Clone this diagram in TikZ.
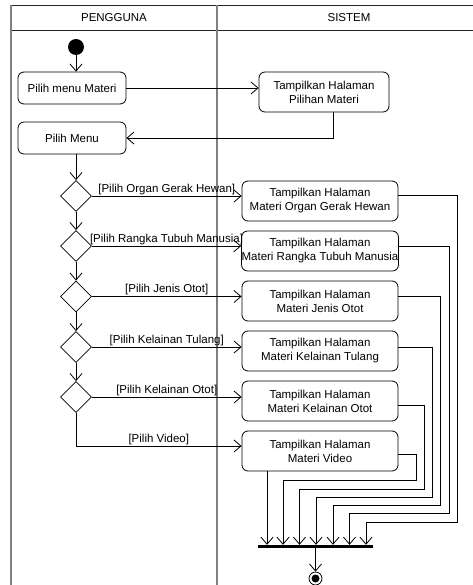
\documentclass[tikz,border=0pt]{standalone}
\usepackage{fontspec}
\setmainfont{Liberation Sans}
\usetikzlibrary{arrows.meta,shapes.geometric,calc}
\begin{document}
\begin{tikzpicture}[x=1pt,y=-1pt,
  every node/.style={font=\fontsize{11.5}{14}\selectfont},
  act/.style={draw, rounded corners=6pt, align=center, inner sep=0pt, line width=0.8pt},
  smallact/.style={act, minimum width=108pt, minimum height=32pt},
  pageact/.style={act, minimum width=156pt, minimum height=40pt},
  choice/.style={draw, diamond, shape aspect=1, inner sep=0pt, minimum size=31pt, line width=0.8pt},
  arr/.style={line width=0.8pt, -{Straight Barb[length=7pt,width=12pt,line width=0.8pt]}},
  flow/.style={line width=0.8pt},
  lbl/.style={midway, above, inner sep=1.2pt},
  lane/.style={line width=0.9pt, black!85},
  laneside/.style={line width=1.6pt, black!50},
]
\useasboundingbox (0,0) rectangle (472,585);

% swimlanes
\draw[lane] (11,5) -- (481,5);
\draw[lane] (11,30) -- (481,30);
\draw[laneside] (11,5) -- (11,585);
\draw[laneside] (217,5) -- (217,585);
\node (hUser) at (114,17.5) {PENGGUNA};
\node (hSys)  at (349,17.5) {SISTEM};

% user lane
\node[circle, fill=black, minimum size=16pt, inner sep=0pt] (start) at (76,47) {};
\node[smallact] (pm) at (72,88) {Pilih menu Materi};
\node[smallact] (menu) at (72,138) {Pilih Menu};
\node[choice] (d1) at (76,196) {};
\node[choice] (d2) at (76,246) {};
\node[choice] (d3) at (76,296.5) {};
\node[choice] (d4) at (76,347) {};
\node[choice] (d5) at (76,397) {};
\coordinate (vid) at (76,446);

% system lane
\node[act, minimum width=130pt, minimum height=40pt] (pil) at (324,92) {Tampilkan Halaman\\Pilihan Materi};
\node[pageact] (b1) at (320,201) {Tampilkan Halaman\\Materi Organ Gerak Hewan};
\node[pageact] (b2) at (320,251) {Tampilkan Halaman\\Materi Rangka Tubuh Manusia};
\node[pageact] (b3) at (320,301) {Tampilkan Halaman\\Materi Jenis Otot};
\node[pageact] (b4) at (320,351) {Tampilkan Halaman\\Materi Kelainan Tulang};
\node[pageact] (b5) at (320,401) {Tampilkan Halaman\\Materi Kelainan Otot};
\node[pageact] (b6) at (320,451) {Tampilkan Halaman\\Materi Video};

\node[rectangle, fill=black, minimum width=115pt, minimum height=3pt, inner sep=0pt] (bar) at (315.5,546.5) {};
\node[circle, draw, line width=0.8pt, minimum size=13pt, inner sep=0pt] (fin) at (315.5,578.5) {};
\node[circle, fill=black, minimum size=8pt, inner sep=0pt] (finDot) at (fin) {};

% routing points for the merge
\coordinate (c1) at (457,522); \coordinate (j1) at (366,0);
\coordinate (c2) at (449,513); \coordinate (j2) at (349.5,0);
\coordinate (c3) at (440.5,505); \coordinate (j3) at (333,0);
\coordinate (c4) at (432,497); \coordinate (j4) at (316,0);
\coordinate (c5) at (424,489); \coordinate (j5) at (299.5,0);
\coordinate (c6) at (416,480); \coordinate (j6) at (283,0);
\coordinate (j0) at (267,0);
\coordinate (ret) at (333,0);

% flows
\draw[arr] (start) -- (start |- pm.north);
\draw[arr] (pm.east) -- (pm.east -| pil.west);
\draw[arr] (pil.south -| ret) |- (menu.east);
\draw[arr] (menu.south -| d1.north) -- (d1.north);
\draw[arr] (d1.south) -- (d2.north);
\draw[arr] (d2.south) -- (d3.north);
\draw[arr] (d3.south) -- (d4.north);
\draw[arr] (d4.south) -- (d5.north);

\draw[arr] (d1.east) -- node[lbl] {[Pilih Organ Gerak Hewan]} (d1.east -| b1.west);
\draw[arr] (d2.east) -- node[lbl] {[Pilih Rangka Tubuh Manusia]} (d2.east -| b2.west);
\draw[arr] (d3.east) -- node[lbl] {[Pilih Jenis Otot]} (d3.east -| b3.west);
\draw[arr] (d4.east) -- node[lbl] {[Pilih Kelainan Tulang]} (d4.east -| b4.west);
\draw[arr] (d5.east) -- node[lbl] {[Pilih Kelainan Otot]} (d5.east -| b5.west);
\draw[flow] (d5.south) -- (vid);
\draw[arr] (vid) -- node[lbl] {[Pilih Video]} (vid -| b6.west);

% merge into the join bar
\draw[arr] ([yshift=6pt]b1.east) -| (c1) -| (bar.north -| j1);
\draw[arr] ([yshift=5pt]b2.east) -| (c2) -| (bar.north -| j2);
\draw[arr] ([yshift=5pt]b3.east) -| (c3) -| (bar.north -| j3);
\draw[arr] ([yshift=4pt]b4.east) -| (c4) -| (bar.north -| j4);
\draw[arr] ([yshift=-4pt]b5.east) -| (c5) -| (bar.north -| j5);
\draw[arr] ([yshift=-3pt]b6.east) -| (c6) -| (bar.north -| j6);
\draw[arr] (b6.south -| j0) -- (bar.north -| j0);
\draw[arr] (bar.south -| fin) -- (fin.north);
\end{tikzpicture}
\end{document}
